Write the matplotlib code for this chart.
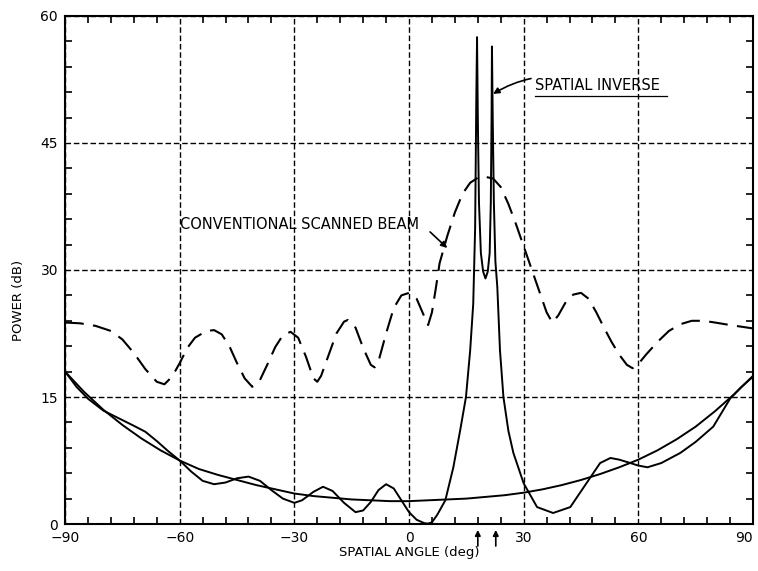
import numpy as np
import matplotlib
matplotlib.use('Agg')
import matplotlib.pyplot as plt
from matplotlib.ticker import MultipleLocator

# conventional scanned beam (dashed)
conv_x = [-90, -86, -82, -78, -75, -72, -69, -66, -64, -62, -60, -58, -56, -53, -51, -49, -47, -45,
          -43, -41, -39, -37, -35, -33, -31, -29, -27, -25, -24, -23, -21, -19, -17, -16, -14, -12,
          -10, -9, -8, -6, -4, -2, 0, 2, 4, 5, 6, 7, 8, 10, 12, 14, 16, 18, 20, 22, 24, 26, 28, 30,
          32, 34, 36, 37.5, 39, 41, 43, 45, 47, 49, 51, 53, 55, 57, 58.5, 60, 62, 65, 68, 71, 74,
          77, 80, 84, 87, 90]
conv_y = [23.8, 23.7, 23.4, 22.8, 21.8, 20.2, 18.3, 16.8, 16.5, 17.4, 19.0, 20.8, 22.0, 22.8, 22.9,
          22.4, 21.0, 19.0, 17.2, 16.2, 17.0, 18.9, 20.9, 22.3, 22.7, 22.0, 19.8, 17.2, 16.8, 17.5,
          20.0, 22.5, 23.9, 24.1, 23.2, 20.8, 18.8, 18.5, 19.2, 22.5, 25.5, 27.0, 27.3, 26.6, 24.5,
          23.5, 25.0, 27.8, 30.8, 34.0, 36.8, 39.0, 40.3, 40.9, 41.0, 40.8, 39.8, 37.8, 35.4, 32.8,
          30.2, 27.6, 25.0, 23.8, 24.6, 26.2, 27.1, 27.3, 26.6, 25.0, 23.2, 21.5, 20.0, 18.8, 18.4,
          18.9, 20.0, 21.5, 22.8, 23.6, 24.0, 24.0, 23.8, 23.5, 23.3, 23.1]

# smooth bowl (solid)
bowl_x = [-90, -85, -80, -75, -70, -65, -60, -55, -50, -45, -40, -35, -30, -25, -20, -15, -10, -5,
          0, 5, 10, 15, 20, 25, 30, 35, 40, 45, 50, 55, 60, 65, 70, 75, 80, 85, 90]
bowl_y = [18.0, 15.6, 13.5, 11.7, 10.1, 8.7, 7.5, 6.5, 5.8, 5.2, 4.6, 4.1, 3.6, 3.3, 3.1, 2.9, 2.8,
          2.7, 2.7, 2.8, 2.9, 3.0, 3.2, 3.4, 3.7, 4.1, 4.6, 5.2, 5.9, 6.7, 7.6, 8.7, 10.0, 11.5, 13.3,
          15.3, 17.5]

# spatial inverse (solid)
inv_x = [-90, -87, -84, -80, -76, -72, -69, -66, -63, -60, -57, -54, -51, -48, -45, -42, -39, -36,
         -33, -30, -28, -25, -22.5, -20, -17, -14, -12, -10, -8, -6, -4, -2, 0, 2, 4, 5, 6, 7.4,
         9.5, 11.6, 13.4, 14.9, 16.0, 16.8, 17.3, 17.6, 17.8, 18.0, 18.3, 18.8, 19.4, 20.0, 20.6,
         21.1, 21.4, 21.6, 21.7, 21.9, 22.2, 22.6, 23.1, 23.8, 24.7, 26.0, 27.3, 30.0, 33.5, 37.7,
         42.2, 47.0, 50.0, 52.7, 55.0, 57.2, 60.0, 62.4, 66.0, 71.0, 75.0, 79.6, 84.0, 87.0, 90.0]
inv_y = [18.0, 16.2, 14.8, 13.4, 12.5, 11.6, 10.9, 9.8, 8.6, 7.5, 6.2, 5.1, 4.7, 4.9, 5.4, 5.6, 5.1,
         4.0, 3.0, 2.5, 2.8, 3.8, 4.4, 3.9, 2.5, 1.4, 1.6, 2.6, 4.0, 4.7, 4.2, 2.8, 1.4, 0.5, 0.1,
         0.05, 0.2, 1.1, 2.8, 6.7, 11.1, 15.0, 20.5, 26.0, 35.0, 50.0, 57.5, 48.0, 38.0, 32.0, 29.8,
         29.0, 29.8, 32.0, 38.0, 48.0, 56.4, 48.0, 38.0, 31.0, 28.0, 20.5, 15.0, 11.0, 8.4, 4.8, 2.0,
         1.3, 2.0, 5.2, 7.2, 7.8, 7.6, 7.3, 6.9, 6.7, 7.2, 8.4, 9.7, 11.5, 14.8, 16.2, 17.4]

x_ticks = [-90, -60, -30, 0, 30, 60, 90]
x_labels = ['\u221290', '\u221260', '\u221230', '0', '30', '60', '90']
arrow_angles = [18, 22.7]

fig = plt.figure(figsize=(7.58, 5.71), dpi=100)
ax = fig.add_axes([0.0858, 0.0823, 0.9076, 0.8897])

ax.plot(conv_x, conv_y, color='black', lw=1.5, dashes=(9, 4.5))
ax.plot(bowl_x, bowl_y, color='black', lw=1.4)
ax.plot(inv_x, inv_y, color='black', lw=1.4)

ax.set_xlim(-90, 90)
ax.set_ylim(0, 60)
ax.set_xticks(x_ticks)
ax.set_xticklabels(x_labels)
ax.xaxis.set_minor_locator(MultipleLocator(6))
ax.yaxis.set_major_locator(MultipleLocator(15))
ax.yaxis.set_minor_locator(MultipleLocator(3))
ax.tick_params(which='both', direction='in', top=True, right=True, width=1.2)
ax.tick_params(which='major', length=0, labelsize=10, pad=5)
ax.tick_params(which='minor', length=5)
ax.get_xticklabels()[-1].set_horizontalalignment('right')
ax.grid(True, which='major', color='black', ls=(0, (4, 2)), lw=1.0)
for s in ax.spines.values():
    s.set_linewidth(1.5)

ax.set_xlabel('SPATIAL ANGLE (deg)', fontsize=9.5, labelpad=1)
ax.set_ylabel('POWER (dB)', fontsize=9.5)
ax.yaxis.set_label_coords(-0.058, 0.44)

for a in arrow_angles:
    ax.annotate('', xy=(a, -0.7), xytext=(a, -2.6), annotation_clip=False,
                arrowprops=dict(arrowstyle='-|>', color='black', lw=1.2, mutation_scale=8,
                                shrinkA=0, shrinkB=0))

ax.text(-60, 35.4, 'CONVENTIONAL SCANNED BEAM', fontsize=10.5, va='center', ha='left')
ax.annotate('', xy=(10, 32.6), xytext=(5.5, 34.5),
            arrowprops=dict(arrowstyle='-|>', color='black', lw=1.2, mutation_scale=9,
                            shrinkA=0, shrinkB=0))
ax.annotate('SPATIAL INVERSE', xy=(22, 50.8), xytext=(33, 51.8),
            fontsize=10.5, va='center', ha='left',
            arrowprops=dict(arrowstyle='-|>', color='black', lw=1.2, mutation_scale=9,
                            shrinkA=1, shrinkB=0, connectionstyle='arc3,rad=0.25'))
ax.plot([33, 67.5], [50.6, 50.6], color='black', lw=0.9)

fig.savefig('out.png', dpi=100)
